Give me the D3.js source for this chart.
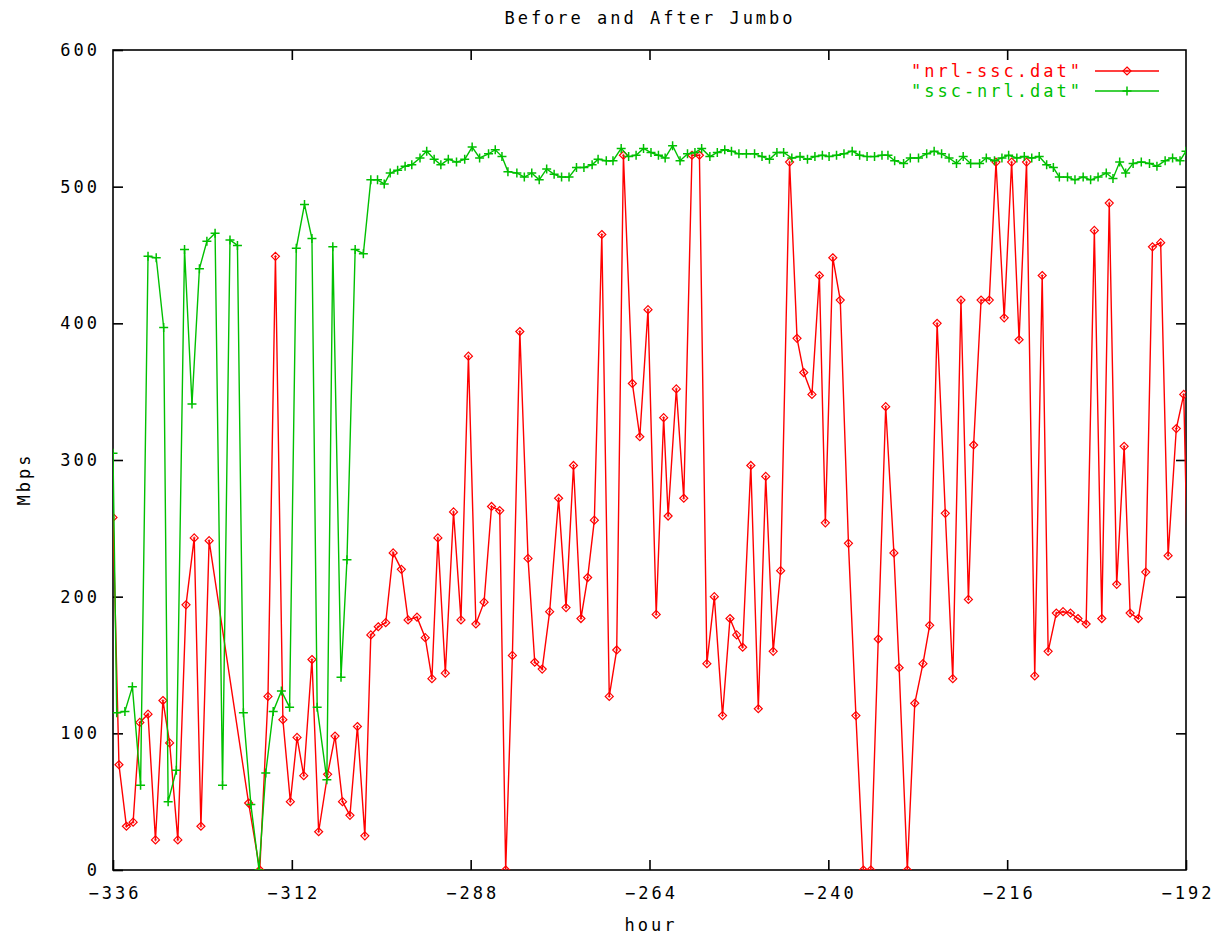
<!DOCTYPE html>
<html>
<head>
<meta charset="utf-8">
<title>Before and After Jumbo</title>
<script src="https://cdn.jsdelivr.net/npm/d3@7"></script>
<style>
    html, body { margin: 0; padding: 0; background: #fff; }
    svg text { font-family: "DejaVu Sans Mono", "Liberation Mono", monospace; font-size: 17px; letter-spacing: 3px; fill: #000; }
</style>
</head>
<body>
<svg id="chart" width="1213" height="937"></svg>
<script>
var title = "Before and After Jumbo",
    xLabel = "hour",
    yLabel = "Mbps";

var xTicks = [-336, -312, -288, -264, -240, -216, -192],
    yTicks = [0, 100, 200, 300, 400, 500, 600];

var seriesNames = ['"nrl-ssc.dat"', '"ssc-nrl.dat"'];

// nrl-ssc.dat
var redHours = [
    -336.0, -335.2, -334.2, -333.3, -332.4, -331.3, -330.3, -329.3, -328.4, -327.3,
    -326.2, -325.1, -324.2, -323.1, -317.8, -316.3, -315.2, -314.2, -313.2, -312.2,
    -311.3, -310.4, -309.3, -308.4, -307.2, -306.2, -305.2, -304.2, -303.2, -302.2,
    -301.4, -300.4, -299.4, -298.4, -297.3, -296.4, -295.2, -294.1, -293.2, -292.4,
    -291.4, -290.3, -289.3, -288.3, -287.3, -286.2, -285.2, -284.1, -283.3, -282.4,
    -281.4, -280.3, -279.4, -278.4, -277.4, -276.2, -275.2, -274.2, -273.2, -272.3,
    -271.4, -270.4, -269.4, -268.4, -267.5, -266.3, -265.3, -264.2, -263.1, -262.1,
    -261.5, -260.4, -259.4, -258.3, -257.3, -256.3, -255.3, -254.2, -253.2, -252.3,
    -251.5, -250.4, -249.4, -248.4, -247.4, -246.4, -245.2, -244.2, -243.3, -242.2,
    -241.2, -240.4, -239.4, -238.4, -237.3, -236.3, -235.3, -234.3, -233.3, -232.3,
    -231.2, -230.5, -229.4, -228.4, -227.3, -226.4, -225.4, -224.3, -223.3, -222.2,
    -221.2, -220.5, -219.5, -218.4, -217.5, -216.4, -215.4, -214.4, -213.4, -212.3,
    -211.3, -210.5, -209.4, -208.5, -207.5, -206.5, -205.4, -204.3, -203.3, -202.3,
    -201.3, -200.3, -199.5, -198.4, -197.4, -196.5, -195.4, -194.4, -193.3, -192.3,
    -191.2
];
var redMbps = [
    258, 77, 32, 35, 108, 114, 22, 124, 93, 22,
    194, 243, 32, 241, 49, 0, 127, 449, 110, 50,
    97, 69, 154, 28, 70, 98, 50, 40, 105, 25,
    172, 178, 181, 232, 220, 183, 185, 170, 140, 243,
    144, 262, 183, 376, 180, 196, 266, 263, 0, 157,
    394, 228, 152, 147, 189, 272, 192, 296, 184, 214,
    256, 465, 127, 161, 523, 356, 317, 410, 187, 331,
    259, 352, 272, 523, 523, 151, 200, 113, 184, 172,
    163, 296, 118, 288, 160, 219, 518, 389, 364, 348,
    435, 254, 448, 417, 239, 113, 0, 0, 169, 339,
    232, 148, 0, 122, 151, 179, 400, 261, 140, 417,
    198, 311, 417, 417, 518, 404, 518, 388, 518, 142,
    435, 160, 188, 189, 188, 184, 180, 468, 184, 488,
    209, 310, 188, 184, 218, 456, 459, 230, 323, 348,
    73
];

// ssc-nrl.dat
var greenHours = [
    -336.0, -335.5, -334.4, -333.4, -332.3, -331.3, -330.2, -329.2, -328.6, -327.5,
    -326.4, -325.4, -324.4, -323.4, -322.3, -321.3, -320.3, -319.3, -318.5, -317.5,
    -316.4, -315.5, -314.5, -313.4, -312.3, -311.4, -310.3, -309.3, -308.6, -307.3,
    -306.5, -305.4, -304.6, -303.5, -302.4, -301.4, -300.5, -299.6, -298.8, -297.8,
    -296.8, -295.9, -294.8, -293.9, -292.9, -292.0, -291.0, -289.9, -288.8, -287.8,
    -286.8, -285.6, -284.7, -283.8, -283.0, -281.8, -280.8, -279.8, -278.8, -277.8,
    -276.8, -275.8, -274.8, -273.8, -272.8, -271.7, -270.9, -269.8, -268.9, -267.8,
    -266.8, -265.8, -264.8, -263.8, -262.8, -261.9, -260.9, -259.9, -258.9, -257.9,
    -257.0, -255.9, -254.9, -253.9, -253.0, -252.0, -251.0, -249.9, -248.9, -247.9,
    -246.9, -246.0, -244.9, -243.8, -242.8, -241.8, -240.8, -239.9, -238.9, -237.9,
    -236.8, -235.8, -234.8, -233.8, -232.8, -232.0, -231.1, -229.9, -229.0, -227.9,
    -226.8, -225.8, -224.8, -223.8, -222.8, -221.9, -220.9, -219.7, -218.8, -217.7,
    -216.7, -215.8, -214.7, -213.7, -212.7, -211.7, -210.7, -209.8, -209.0, -207.9,
    -206.9, -205.8, -204.8, -203.8, -202.7, -201.8, -200.9, -200.1, -199.1, -198.0,
    -196.9, -195.9, -194.8, -193.8, -192.8, -192.0
];
var greenMbps = [
    305, 115, 116, 134, 62, 449, 448, 397, 50, 73,
    454, 341, 440, 460, 466, 62, 461, 457, 115, 48,
    0, 71, 116, 131, 119, 455, 487, 462, 119, 66,
    456, 141, 227, 454, 451, 505, 505, 502, 510, 512,
    515, 516, 521, 526, 520, 516, 520, 518, 520, 529,
    521, 524, 527, 522, 511, 510, 507, 510, 505, 513,
    509, 507, 507, 514, 514, 516, 520, 519, 519, 528,
    522, 523, 528, 525, 523, 521, 530, 519, 524, 525,
    528, 522, 525, 527, 526, 524, 524, 524, 522, 520,
    525, 525, 521, 522, 520, 522, 523, 522, 523, 524,
    526, 523, 522, 522, 523, 523, 519, 517, 521, 521,
    524, 526, 524, 521, 517, 522, 517, 517, 521, 519,
    521, 523, 521, 522, 521, 522, 516, 514, 507, 507,
    505, 507, 505, 507, 510, 506, 518, 510, 517, 518,
    517, 515, 519, 521, 519, 526
];

var colors = ["#ff0000", "#00c000"];

var margin = {top: 50, right: 27, bottom: 67, left: 113},
    width = 1213 - margin.left - margin.right,
    height = 937 - margin.top - margin.bottom;

var svg = d3.select("#chart");
svg.append("rect").attr("width", 1213).attr("height", 937).attr("fill", "#fff");

var x = d3.scaleLinear().domain([-336, -192]).range([0, width]),
    y = d3.scaleLinear().domain([0, 600]).range([height, 0]);

var g = svg.append("g").attr("transform", "translate(" + margin.left + "," + margin.top + ")");

g.append("clipPath").attr("id", "plotClip")
    .append("rect").attr("x", 0).attr("y", 0).attr("width", width).attr("height", height);

// axes with inward ticks on all four sides
function styleAxis(sel) {
    sel.select(".domain").remove();
    sel.selectAll(".tick line").attr("stroke", "#000").attr("stroke-width", 1.6);
}

g.append("g")
    .attr("transform", "translate(0," + height + ")")
    .call(d3.axisBottom(x).tickValues(xTicks).tickSize(-10).tickPadding(17).tickFormat(d3.format("d")))
    .call(styleAxis)
    .selectAll("text").attr("font-size", null).attr("font-family", null).attr("fill", "#000").attr("dx", "1.5");

g.append("g")
    .call(d3.axisTop(x).tickValues(xTicks.slice(1, -1)).tickSize(-10).tickFormat(""))
    .call(styleAxis);

g.append("g")
    .call(d3.axisLeft(y).tickValues(yTicks).tickSize(-10).tickPadding(13).tickFormat(d3.format("d")))
    .call(styleAxis)
    .selectAll("text").attr("font-size", null).attr("font-family", null).attr("fill", "#000");

g.append("g")
    .attr("transform", "translate(" + width + ",0)")
    .call(d3.axisRight(y).tickValues(yTicks.slice(1, -1)).tickSize(-10).tickFormat(""))
    .call(styleAxis);

g.append("rect")
    .attr("width", width).attr("height", height)
    .attr("fill", "none").attr("stroke", "#000").attr("stroke-width", 1.6);

// series
var series = [
    {hours: redHours, values: redMbps, color: colors[0], marker: "diamond"},
    {hours: greenHours, values: greenMbps, color: colors[1], marker: "plus"}
];

var line = d3.line()
    .x(function (d) { return x(d[0]); })
    .y(function (d) { return y(d[1]); });

function drawMarker(sel, type, color) {
    if (type === "diamond") {
        sel.append("path")
            .attr("d", "M0,-4L4,0L0,4L-4,0Z")
            .attr("fill", "none").attr("stroke", color).attr("stroke-width", 1.2);
        sel.append("path")
            .attr("d", "M-1.5,0H1.5M0,-1.5V1.5")
            .attr("stroke", color).attr("stroke-width", 0.8);
    } else {
        sel.append("path")
            .attr("d", "M-4.5,0H4.5M0,-4.5V4.5")
            .attr("stroke", color).attr("stroke-width", 1.5);
    }
}

var plot = g.append("g").attr("clip-path", "url(#plotClip)");

series.forEach(function (s) {
    var pts = s.hours.map(function (h, i) { return [h, s.values[i]]; });
    plot.append("path")
        .datum(pts)
        .attr("fill", "none")
        .attr("stroke", s.color)
        .attr("stroke-width", 1.4)
        .attr("d", line);
    plot.selectAll(null)
        .data(pts.filter(function (d) { return d[0] <= -192; }))
        .enter().append("g")
        .attr("transform", function (d) { return "translate(" + x(d[0]) + "," + y(d[1]) + ")"; })
        .each(function () { drawMarker(d3.select(this), s.marker, s.color); });
});

// legend
var legend = g.append("g").attr("transform", "translate(" + (width - 100) + ",21)");
series.forEach(function (s, i) {
    var row = legend.append("g").attr("transform", "translate(0," + (i * 20) + ")");
    row.append("text")
        .attr("x", -3).attr("dy", "0.35em")
        .attr("text-anchor", "end")
        .style("fill", s.color)
        .text(seriesNames[i]);
    row.append("line")
        .attr("x1", 9).attr("x2", 73)
        .attr("stroke", s.color).attr("stroke-width", 1.4);
    drawMarker(row.append("g").attr("transform", "translate(41,0)"), s.marker, s.color);
});

// titles
svg.append("text")
    .attr("x", 650).attr("y", 18).attr("dy", "0.35em")
    .attr("text-anchor", "middle")
    .text(title);

svg.append("text")
    .attr("x", margin.left + width / 2 + 1.5).attr("y", 925).attr("dy", "0.35em")
    .attr("text-anchor", "middle")
    .text(xLabel);

svg.append("text")
    .attr("transform", "translate(24,479) rotate(-90)")
    .attr("dy", "0.35em")
    .attr("text-anchor", "middle")
    .text(yLabel);
</script>
</body>
</html>
